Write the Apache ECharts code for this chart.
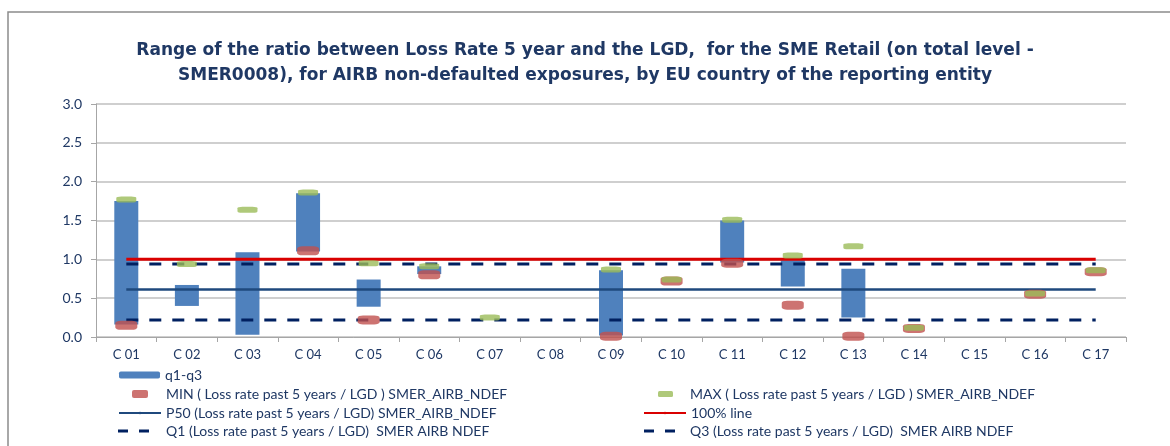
<!DOCTYPE html>
<html>
<head>
<meta charset="utf-8">
<script src="https://cdn.jsdelivr.net/npm/echarts@6/dist/echarts.min.js"></script>
<style>
    html, body { margin: 0; padding: 0; background: #fff; }
    #chart { width: 1170px; height: 446px; }
</style>
</head>
<body>
<div id="chart"></div>
<script>
// categories (countries)
const categories = ['C 01', 'C 02', 'C 03', 'C 04', 'C 05', 'C 06', 'C 07', 'C 08', 'C 09',
    'C 10', 'C 11', 'C 12', 'C 13', 'C 14', 'C 15', 'C 16', 'C 17'];

// interquartile range per country
const q1Values = [0.16, 0.40, 0.03, 1.10, 0.39, 0.81, null, null, 0.02, null, 0.96, 0.65, 0.25, null, null, null, null];
const q3Values = [1.75, 0.67, 1.09, 1.85, 0.74, 0.91, null, null, 0.86, null, 1.50, 0.99, 0.88, null, null, null, null];

// min / max per country
const minValues = [0.15, null, null, 1.11, 0.22, 0.80, null, null, 0.01, 0.72, 0.95, 0.41, 0.01, 0.11, null, 0.55, 0.84];
const maxValues = [1.77, 0.94, 1.64, 1.86, 0.95, 0.91, 0.25, null, 0.87, 0.74, 1.51, 1.05, 1.17, 0.12, null, 0.56, 0.86];

// EU-wide reference levels
const p50Line = [0.61, 0.61, 0.61, 0.61, 0.61, 0.61, 0.61, 0.61, 0.61, 0.61, 0.61, 0.61, 0.61, 0.61, 0.61, 0.61, 0.61];
const line100 = [1.0, 1.0, 1.0, 1.0, 1.0, 1.0, 1.0, 1.0, 1.0, 1.0, 1.0, 1.0, 1.0, 1.0, 1.0, 1.0, 1.0];
const q1Line = [0.22, 0.22, 0.22, 0.22, 0.22, 0.22, 0.22, 0.22, 0.22, 0.22, 0.22, 0.22, 0.22, 0.22, 0.22, 0.22, 0.22];
const q3Line = [0.94, 0.94, 0.94, 0.94, 0.94, 0.94, 0.94, 0.94, 0.94, 0.94, 0.94, 0.94, 0.94, 0.94, 0.94, 0.94, 0.94];

const yTicks = { min: 0, max: 3, interval: 0.5 };

const NAMES = {
    range: 'q1-q3',
    min: 'MIN ( Loss rate past 5 years / LGD ) SMER_AIRB_NDEF',
    max: 'MAX ( Loss rate past 5 years / LGD ) SMER_AIRB_NDEF',
    p50: 'P50 (Loss rate past 5 years / LGD) SMER_AIRB_NDEF',
    l100: '100% line',
    q1: 'Q1 (Loss rate past 5 years / LGD)  SMER AIRB NDEF',
    q3: 'Q3 (Loss rate past 5 years / LGD)  SMER AIRB NDEF'
};

const navy = '#1F3864';
const font = 'Lato';
const rangeHeights = q3Values.map((v, i) => (v == null || q1Values[i] == null) ? null : +(v - q1Values[i]).toFixed(3));

// two short dashes, as in the Excel legend
const dashIcon = 'path://M0,0h10v3h-10z M21,0h10v3h-10z';

function legendAt(name, left, top, w, h, padLeft, icon) {
    const item = { name: name };
    if (icon) item.icon = icon;
    return {
        data: [item],
        left: left,
        top: top,
        itemWidth: w,
        itemHeight: h,
        padding: 0,
        selectedMode: false,
        textStyle: { color: navy, fontFamily: font, fontSize: 14, padding: [0, 0, 0, padLeft || 0] }
    };
}

const chart = echarts.init(document.getElementById('chart'));

chart.setOption({
    animation: false,
    backgroundColor: '#fff',
    graphic: [{
        type: 'rect',
        shape: { x: 8, y: 12, width: 1200, height: 500 },
        style: { fill: 'none', stroke: '#8c8c8c', lineWidth: 1.5 },
        silent: true
    }],
    title: {
        text: 'Range of the ratio between Loss Rate 5 year and the LGD,  for the SME Retail (on total level -\nSMER0008), for AIRB non-defaulted exposures, by EU country of the reporting entity',
        left: 'center',
        top: 33,
        textStyle: { color: navy, fontFamily: 'DejaVu Sans', fontWeight: 'bold', fontSize: 17, lineHeight: 25 }
    },
    grid: { left: 96, right: 44, top: 104, bottom: 109 },
    legend: [
        legendAt(NAMES.range, 119, 368, 41, 7),
        legendAt(NAMES.min, 132, 387, 16, 8, 13),
        legendAt(NAMES.p50, 118, 406, 42, 3),
        legendAt(NAMES.q1, 118, 424, 31, 3, 12, dashIcon),
        legendAt(NAMES.max, 658, 387, 15, 6, 12),
        legendAt(NAMES.l100, 643, 406, 42, 3),
        legendAt(NAMES.q3, 644, 424, 31, 3, 10, dashIcon)
    ],
    xAxis: {
        type: 'category',
        data: categories,
        boundaryGap: true,
        axisLine: { lineStyle: { color: '#A6A6A6', width: 1 } },
        axisTick: { show: true, length: 5, interval: 0, lineStyle: { color: '#A6A6A6' } },
        axisLabel: { color: navy, fontFamily: font, fontSize: 13, margin: 11, interval: 0 }
    },
    yAxis: {
        type: 'value',
        min: yTicks.min,
        max: yTicks.max,
        interval: yTicks.interval,
        axisLine: { show: true, lineStyle: { color: '#A6A6A6' } },
        axisTick: { show: true, length: 5, lineStyle: { color: '#A6A6A6' } },
        splitLine: { lineStyle: { color: '#BFBFBF', width: 1.5 } },
        axisLabel: { color: navy, fontFamily: font, fontSize: 14, margin: 14, formatter: v => v.toFixed(1) }
    },
    series: [
        {
            name: 'base',
            type: 'bar',
            stack: 'iqr',
            barWidth: 24,
            data: q1Values,
            itemStyle: { color: 'transparent' },
            silent: true,
            z: 1
        },
        {
            name: NAMES.range,
            type: 'bar',
            stack: 'iqr',
            barWidth: 24,
            data: rangeHeights,
            itemStyle: { color: '#4F81BD' },
            z: 1
        },
        {
            name: NAMES.p50,
            type: 'line',
            data: p50Line,
            symbol: 'none',
            lineStyle: { color: '#1F497D', width: 2.5 },
            itemStyle: { color: '#1F497D' },
            z: 3
        },
        {
            name: NAMES.l100,
            type: 'line',
            data: line100,
            symbol: 'none',
            lineStyle: { color: '#D90000', width: 3 },
            itemStyle: { color: '#D90000' },
            z: 3
        },
        {
            name: NAMES.q1,
            type: 'line',
            data: q1Line,
            symbol: 'none',
            lineStyle: { color: '#002060', width: 3, type: [12, 11], cap: 'butt' },
            itemStyle: { color: '#002060' },
            z: 3
        },
        {
            name: NAMES.q3,
            type: 'line',
            data: q3Line,
            symbol: 'none',
            lineStyle: { color: '#002060', width: 3, type: [12, 11], cap: 'butt' },
            itemStyle: { color: '#002060' },
            z: 3
        },
        {
            name: NAMES.min,
            type: 'scatter',
            data: minValues,
            symbol: 'roundRect',
            symbolSize: [22, 9],
            itemStyle: { color: '#C0504D' },
            z: 5
        },
        {
            name: NAMES.max,
            type: 'scatter',
            data: maxValues,
            symbol: 'roundRect',
            symbolSize: [20, 6],
            itemStyle: { color: '#9BBB59' },
            z: 6
        }
    ]
});
</script>
</body>
</html>
